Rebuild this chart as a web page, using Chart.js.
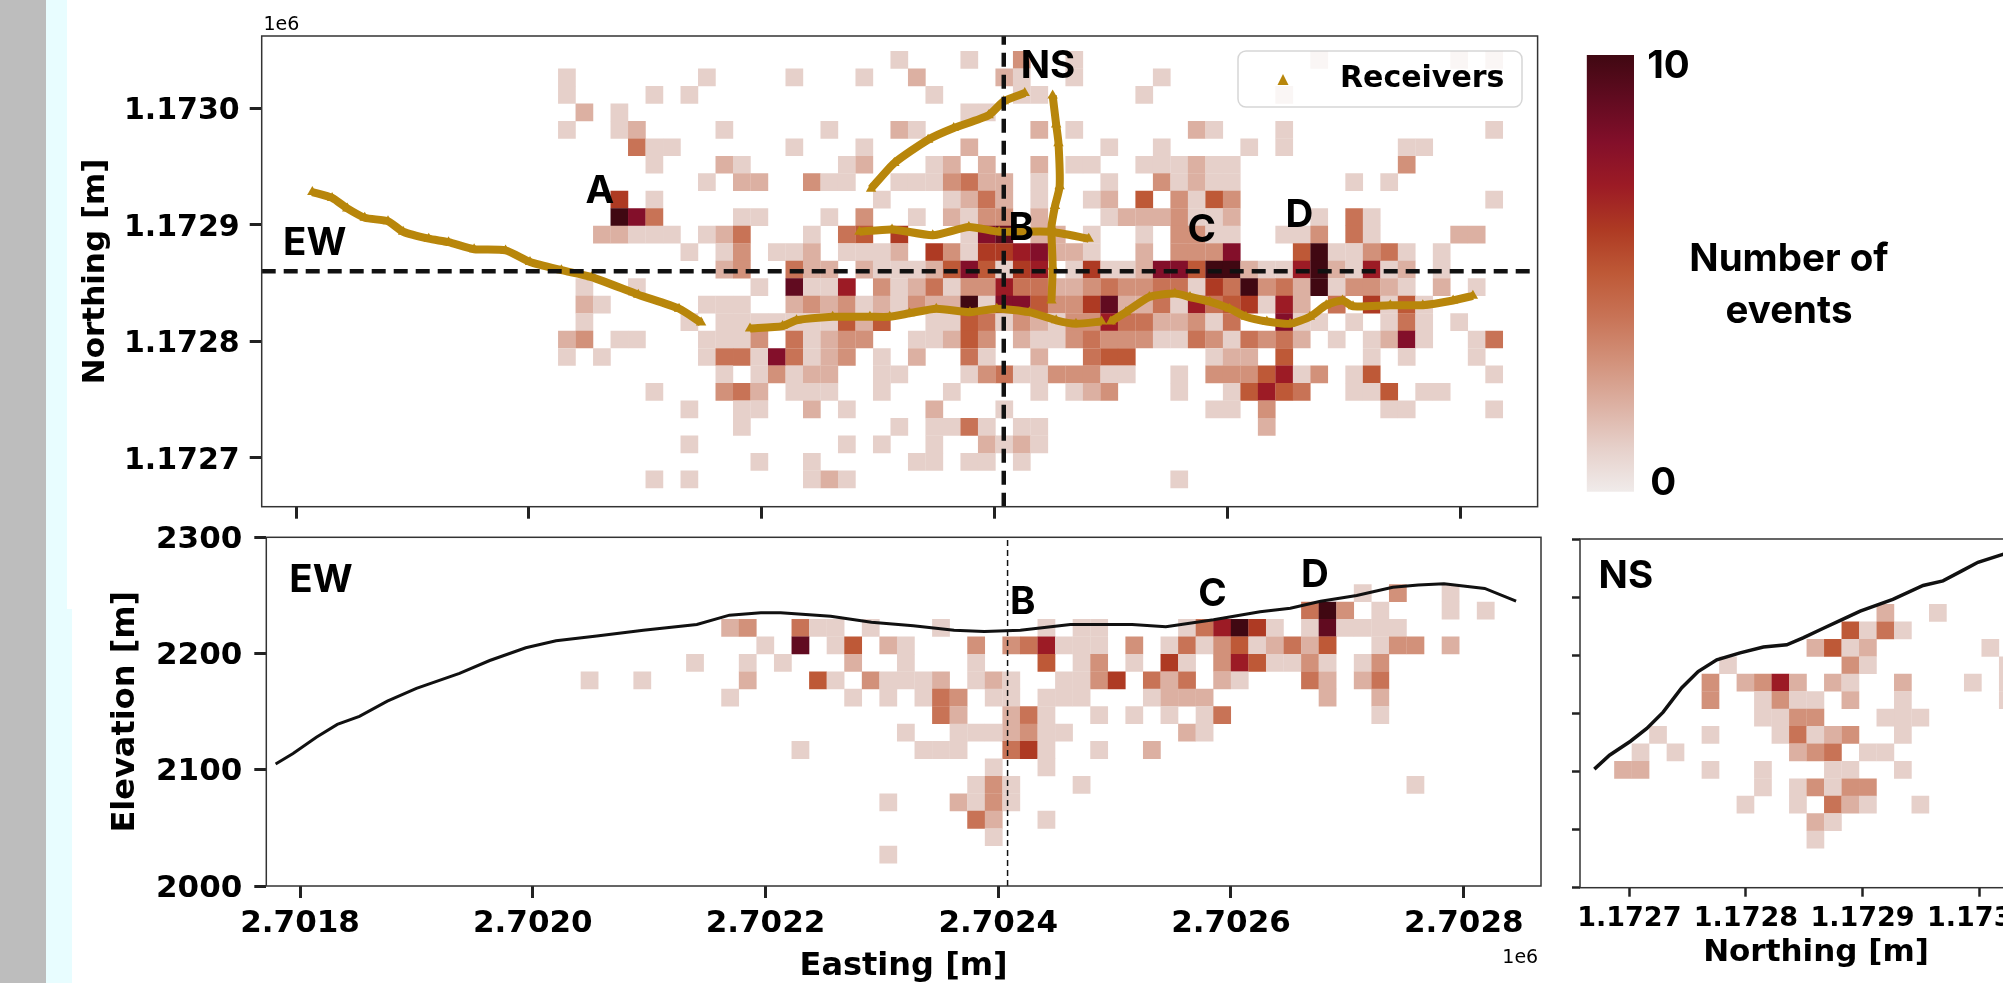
<!DOCTYPE html>
<html>
<head>
<meta charset="utf-8">
<title>Event density map</title>
<script src="https://cdn.jsdelivr.net/npm/chart.js@4.4.0/dist/chart.umd.js"></script>
<style>
  html, body { margin: 0; width: 2003px; height: 983px; overflow: hidden; background: #fff; }
  canvas { position: absolute; filter: blur(0.4px); }
  .strip { position: absolute; }
</style>
</head>
<body>
<div class="strip" style="left:46px;top:0;width:21px;height:609px;background:#e8fdff"></div>
<div class="strip" style="left:46px;top:609px;width:26px;height:374px;background:#e8fdff"></div>
<div class="strip" style="left:0;top:0;width:46px;height:983px;background:#bdbdbd"></div>
<canvas id="planChart" width="1490" height="530" style="left:70px;top:0"></canvas>
<canvas id="ewChart" width="1490" height="473" style="left:70px;top:520px"></canvas>
<canvas id="nsChart" width="560" height="473" style="left:1515px;top:520px"></canvas>
<canvas id="colorbarChart" width="433" height="530" style="left:1570px;top:0"></canvas>
<script>
// tick labels
const eastingTicks = [2701800, 2702000, 2702200, 2702400, 2702600, 2702800];
const northingTicks = [1172700, 1172800, 1172900, 1173000];
const elevationTicks = [2000, 2100, 2200, 2300];
const nsElevationTicks = [2000, 2050, 2100, 2150, 2200, 2250, 2300];

// colour per event count, 0 to 10
const countColors = ["#f0ebea", "#e6d0ca", "#dcb0a2", "#d2917a", "#c87356", "#be5937",
  "#ae3a23", "#9c1b25", "#830f2a", "#610b20", "#400812"];

// event counts, one list per bin row, north to south: [column, count]
const planBins = [
  [[19,1],[23,1],[26,3],[29,1],[43,1],[51,1],[53,1]],
  [[0,1],[8,1],[13,1],[17,1],[20,2],[25,2],[26,1],[29,1],[34,1]],
  [[0,1],[5,1],[7,1],[21,1],[26,1],[27,1],[33,1],[41,1]],
  [[1,2],[3,1],[23,1],[24,1]],
  [[0,1],[3,1],[4,2],[9,1],[15,1],[19,2],[20,1],[27,2],[29,1],[36,2],[37,1],[41,1],[53,1]],
  [[4,4],[5,1],[6,1],[13,1],[17,1],[23,2],[31,1],[34,1],[39,1],[41,1],[48,1],[49,1]],
  [[5,1],[9,2],[10,1],[16,1],[17,2],[21,1],[22,2],[24,2],[27,2],[29,1],[30,1],[33,1],[34,1],[35,1],[36,2],[37,1],[38,1],[48,3]],
  [[8,1],[10,2],[11,2],[14,3],[15,1],[16,1],[19,1],[20,1],[21,1],[22,3],[23,4],[24,2],[25,2],[27,1],[31,1],[34,3],[35,1],[36,2],[37,1],[38,1],[45,1],[47,1]],
  [[3,6],[5,1],[18,1],[22,1],[23,2],[24,4],[25,2],[27,1],[30,1],[31,2],[33,5],[35,3],[36,1],[37,5],[38,3],[53,1]],
  [[3,10],[4,8],[5,4],[10,1],[11,1],[15,1],[17,3],[20,1],[22,2],[23,1],[24,3],[25,3],[27,2],[31,1],[32,2],[33,2],[34,2],[35,3],[36,1],[37,1],[38,2],[43,1],[45,4],[46,1]],
  [[2,2],[3,2],[4,1],[5,1],[6,1],[8,1],[9,2],[10,4],[14,1],[16,4],[17,5],[19,6],[23,1],[24,8],[25,9],[27,2],[28,2],[30,1],[33,1],[35,3],[36,3],[37,1],[38,1],[41,1],[42,1],[43,3],[45,4],[46,1],[51,2],[52,2]],
  [[7,1],[9,1],[10,3],[12,1],[13,1],[14,2],[16,1],[17,1],[18,1],[19,2],[21,6],[22,3],[23,1],[24,6],[25,6],[26,7],[27,8],[28,2],[29,2],[30,1],[33,2],[35,3],[36,3],[37,3],[38,8],[42,5],[43,10],[44,1],[45,1],[46,3],[47,4],[48,1],[50,1]],
  [[9,2],[10,3],[13,4],[14,2],[15,2],[17,2],[18,1],[19,1],[20,1],[21,2],[22,5],[23,8],[24,5],[25,1],[26,6],[27,7],[29,1],[30,6],[31,1],[32,1],[33,2],[34,8],[35,8],[36,5],[37,10],[38,10],[39,2],[40,1],[41,1],[42,7],[43,10],[44,2],[45,1],[46,7],[47,1],[48,2],[50,1]],
  [[1,1],[4,1],[11,1],[13,9],[14,1],[15,1],[16,7],[18,3],[19,1],[20,2],[21,4],[22,1],[23,3],[24,3],[25,7],[26,4],[27,4],[28,2],[29,2],[30,3],[31,4],[32,3],[33,3],[34,4],[35,4],[36,1],[37,6],[38,4],[39,10],[40,3],[41,4],[42,2],[43,10],[44,1],[45,3],[46,3],[47,2],[48,1],[50,2],[52,1]],
  [[1,2],[2,1],[8,1],[9,1],[10,1],[13,2],[14,3],[15,2],[16,3],[17,1],[18,2],[19,1],[20,3],[21,2],[22,2],[23,10],[24,1],[25,8],[26,8],[27,5],[28,3],[29,3],[30,6],[31,9],[32,2],[33,2],[34,4],[35,1],[36,7],[37,4],[38,5],[39,6],[40,1],[41,7],[42,2],[44,4],[46,6],[47,1],[48,5],[49,1]],
  [[1,1],[7,1],[9,1],[10,1],[11,1],[12,1],[13,1],[14,1],[15,1],[16,5],[17,2],[18,5],[21,1],[22,1],[23,5],[24,4],[25,1],[26,3],[27,2],[28,1],[29,3],[30,3],[31,7],[32,4],[33,4],[34,2],[35,2],[36,3],[37,1],[38,4],[41,8],[42,1],[43,1],[45,1],[47,1],[48,4],[49,1],[51,1]],
  [[0,2],[1,3],[3,1],[4,1],[8,1],[9,1],[10,1],[11,3],[13,4],[14,1],[15,2],[16,3],[17,3],[20,1],[21,1],[22,2],[23,5],[24,3],[26,2],[27,1],[28,1],[29,3],[30,4],[31,3],[32,3],[33,3],[34,1],[35,1],[36,4],[37,3],[38,1],[39,4],[40,3],[41,4],[42,2],[44,1],[46,1],[47,2],[48,8],[49,1],[52,1],[53,4]],
  [[0,1],[2,1],[8,1],[9,4],[10,4],[11,1],[12,8],[13,4],[14,1],[15,2],[16,3],[18,1],[20,2],[23,4],[24,1],[27,2],[30,4],[31,5],[32,5],[37,1],[38,2],[39,2],[41,5],[46,1],[48,1],[52,1]],
  [[9,1],[11,1],[12,3],[13,1],[14,2],[15,2],[18,1],[19,1],[23,1],[24,3],[25,4],[26,1],[27,1],[28,3],[29,3],[30,3],[31,1],[32,1],[35,1],[37,3],[38,3],[39,3],[40,5],[41,7],[42,1],[43,3],[45,1],[46,5],[53,1]],
  [[5,1],[9,3],[10,4],[11,2],[13,1],[14,1],[15,1],[18,1],[22,1],[27,1],[29,1],[30,2],[31,3],[35,1],[38,1],[39,5],[40,7],[41,5],[42,4],[45,1],[46,1],[47,5],[49,1],[50,1]],
  [[7,1],[10,1],[11,1],[14,2],[16,1],[21,2],[25,1],[37,1],[38,1],[40,3],[47,1],[48,1],[53,1]],
  [[10,1],[19,1],[21,1],[22,1],[23,4],[24,1],[26,1],[27,1],[40,2]],
  [[7,1],[16,1],[18,1],[21,1],[24,2],[25,1],[26,2],[27,1]],
  [[11,1],[14,1],[20,1],[21,1],[23,1],[24,1],[26,1]],
  [[5,1],[7,1],[14,1],[15,2],[16,1],[35,1]],
];
const ewBins = [
  [[44,1],[46,3],[49,1]],
  [[41,4],[42,10],[43,3],[45,1],[49,1],[51,1]],
  [[8,2],[9,3],[12,4],[13,1],[14,1],[16,1],[20,1],[26,1],[28,1],[29,1],[34,1],[35,4],[36,7],[37,10],[38,6],[39,1],[41,1],[42,9],[43,1],[44,1],[45,1],[46,1]],
  [[10,1],[12,9],[14,1],[15,5],[17,2],[18,1],[22,3],[24,3],[25,4],[26,7],[27,1],[28,1],[29,1],[31,3],[33,1],[34,4],[35,1],[36,3],[37,5],[38,1],[39,2],[40,4],[41,2],[42,5],[45,1],[46,3],[47,3],[49,2]],
  [[6,1],[9,1],[11,1],[15,2],[18,1],[22,1],[26,5],[28,1],[29,3],[31,1],[33,6],[34,1],[36,3],[37,7],[38,5],[39,1],[40,1],[41,3],[42,1],[44,1],[45,3]],
  [[0,1],[3,1],[9,2],[13,5],[14,1],[16,3],[17,1],[18,1],[19,1],[20,2],[22,1],[23,2],[24,1],[27,1],[28,1],[29,3],[30,6],[32,4],[33,2],[34,4],[36,2],[37,1],[41,4],[42,2],[44,2],[45,4]],
  [[8,1],[15,1],[17,1],[19,1],[20,4],[21,3],[23,1],[24,1],[26,1],[27,1],[28,1],[32,1],[33,2],[34,2],[35,2],[42,2],[45,2]],
  [[20,4],[21,2],[24,2],[25,4],[26,1],[29,1],[31,1],[33,1],[35,1],[36,4],[45,1]],
  [[18,1],[21,1],[22,1],[23,1],[24,2],[25,3],[26,1],[27,1],[34,2],[35,1]],
  [[12,1],[19,1],[20,1],[21,1],[24,4],[25,6],[26,1],[29,1],[32,2]],
  [[23,1],[26,1]],
  [[22,1],[23,3],[24,1],[28,1],[47,1]],
  [[17,1],[21,2],[22,1],[23,3],[24,1]],
  [[22,4],[23,2],[26,1]],
  [[23,1]],
  [[17,1]],
];
const nsBins = [
  [[15,2],[18,1]],
  [[13,5],[14,1],[15,4],[16,1]],
  [[11,2],[12,5],[13,1],[14,2],[21,1]],
  [[6,1],[13,3],[14,1],[22,1]],
  [[5,3],[7,2],[8,3],[9,7],[10,2],[12,2],[13,1],[16,2],[20,1],[22,1]],
  [[5,3],[8,1],[9,3],[10,1],[11,1],[13,2],[16,1],[22,1]],
  [[8,1],[9,1],[10,3],[11,3],[15,1],[16,1],[17,1]],
  [[2,1],[5,1],[9,1],[10,4],[11,1],[12,2],[13,3],[16,1]],
  [[1,1],[3,1],[10,2],[11,3],[12,4],[14,1],[15,1]],
  [[0,2],[1,2],[5,1],[8,1],[12,1],[13,1],[16,1]],
  [[8,1],[10,1],[11,3],[12,1],[13,3],[14,3]],
  [[7,1],[10,1],[12,4],[13,2],[14,1],[17,1]],
  [[11,2],[12,1]],
  [[11,1]],
];

// receiver lines, easting and northing
const lineAEast = [2701814, 2701831, 2701844, 2701859, 2701879, 2701892, 2701914, 2701931, 2701953, 2701980, 2702001, 2702028, 2702054, 2702094, 2702129, 2702148];
const lineANorth = [1172928, 1172923, 1172914, 1172906, 1172903, 1172894, 1172888, 1172885, 1172879, 1172878, 1172868, 1172861, 1172855, 1172840, 1172828, 1172816];
const lineBEast = [2702190, 2702218, 2702230, 2702261, 2702293, 2702310, 2702327, 2702350, 2702379, 2702402, 2702430, 2702453, 2702470, 2702492];
const lineBNorth = [1172811, 1172813, 1172818, 1172821, 1172821, 1172821, 1172824, 1172828, 1172825, 1172828, 1172825, 1172818, 1172815, 1172817];
const lineCEast = [2702500, 2702513, 2702533, 2702555, 2702568, 2702585, 2702602, 2702616, 2702634, 2702654, 2702671, 2702685, 2702699, 2702708, 2702740, 2702768, 2702794, 2702811];
const lineCNorth = [1172817, 1172825, 1172838, 1172841, 1172838, 1172834, 1172828, 1172821, 1172817, 1172815, 1172821, 1172831, 1172835, 1172830, 1172831, 1172831, 1172835, 1172839];
const lineDEast = [2702284, 2702312, 2702347, 2702378, 2702404, 2702448, 2702481];
const lineDNorth = [1172894, 1172896, 1172891, 1172898, 1172894, 1172894, 1172888];
const lineEEast = [2702294, 2702314, 2702343, 2702365, 2702395, 2702408, 2702426];
const lineENorth = [1172931, 1172953, 1172973, 1172983, 1172994, 1173006, 1173013];
const lineFEast = [2702450, 2702453, 2702455, 2702456, 2702452, 2702449, 2702450, 2702449];
const lineFNorth = [1173011, 1172986, 1172970, 1172933, 1172916, 1172898, 1172864, 1172835];

// surface profiles
const ewSurfaceEast = [2701779, 2701794, 2701814, 2701832, 2701851, 2701875, 2701900, 2701937, 2701963, 2701994, 2702020, 2702055, 2702095, 2702141, 2702169, 2702196, 2702213, 2702256, 2702291, 2702327, 2702362, 2702388, 2702419, 2702462, 2702515, 2702544, 2702585, 2702625, 2702651, 2702677, 2702708, 2702739, 2702761, 2702783, 2702818, 2702845];
const ewSurfaceElev = [2105, 2114, 2128, 2139, 2146, 2159, 2170, 2183, 2194, 2205, 2211, 2215, 2220, 2225, 2233, 2235, 2235, 2232, 2227, 2224, 2220, 2219, 2220, 2225, 2225, 2223, 2229, 2236, 2239, 2245, 2250, 2257, 2259, 2260, 2256, 2245];
const nsSurfaceNorth = [1172670, 1172683, 1172701, 1172715, 1172729, 1172745, 1172759, 1172775, 1172795, 1172815, 1172835, 1172849, 1172866, 1172881, 1172898, 1172926, 1172952, 1172969, 1172986, 1172999, 1173021];
const nsSurfaceElev = [2102, 2114, 2126, 2137, 2151, 2172, 2186, 2196, 2202, 2207, 2209, 2215, 2223, 2230, 2238, 2248, 2260, 2264, 2273, 2280, 2287];

// profile positions
const ewProfileNorthing = 1172860;
const nsProfileEasting = 2702408;

const annotFont = "bold 38.5px Inter";
const smallFont = "19px 'DejaVu Sans'";
const tickFamily = "'DejaVu Sans'";
const receiverColor = "#b8860b";

function zip(xs, ys) {
  return xs.map((x, i) => ({ x: x, y: ys[i] }));
}

// turn bin rows into centre points for the rect markers
function binPoints(rows, xFirst, yFirst, xBin, yBin) {
  const pts = [];
  rows.forEach((row, r) => {
    row.forEach((bin) => {
      pts.push({ x: xFirst + bin[0] * xBin, y: yFirst - r * yBin, v: bin[1] });
    });
  });
  return pts;
}

function heatDataset(points, xBin) {
  return {
    data: points,
    order: 5,
    pointStyle: "rect",
    pointBorderWidth: 0,
    pointRadius: (ctx) => {
      const xs = ctx.chart.scales.x;
      const side = xs.getPixelForValue(xs.min + xBin) - xs.getPixelForValue(xs.min);
      return side / Math.SQRT2 + 0.15;
    },
    pointBackgroundColor: (ctx) => (ctx.raw ? countColors[ctx.raw.v] : countColors[0]),
  };
}

function receiverDataset(xs, ys) {
  return {
    data: zip(xs, ys),
    order: 3,
    showLine: true,
    tension: 0.2,
    borderColor: receiverColor,
    borderWidth: 8,
    pointStyle: "triangle",
    pointRadius: 6,
    pointBorderWidth: 0,
    pointBackgroundColor: receiverColor,
  };
}

function lineDataset(xs, ys, width, dash) {
  return {
    data: zip(xs, ys),
    order: 1,
    showLine: true,
    borderColor: "#111",
    borderWidth: width,
    borderDash: dash || [],
    pointRadius: 0,
  };
}

function axis(ticksList, min, max, size, opts) {
  const scale = {
    type: "linear",
    min: min,
    max: max,
    border: { display: false },
    grid: { drawOnChartArea: false, drawTicks: true, tickLength: opts.tickLength || 12, tickWidth: opts.tickWidth || 3, tickColor: "#222" },
    afterBuildTicks: (s) => { s.ticks = ticksList.map((v) => ({ value: v })); },
    afterFit: (s) => {
      if (s.isHorizontal()) s.height = size;
      else s.width = size;
      // tick labels must not push the plot area around
      s.paddingLeft = s.paddingRight = s.paddingTop = s.paddingBottom = 0;
    },
    ticks: {
      autoSkip: false,
      maxRotation: 0,
      padding: opts.pad || 10,
      labelOffset: opts.labelOffset || 0,
      color: "#000",
      font: { family: tickFamily, weight: "bold", size: opts.font || 30 },
      callback: opts.label || (() => ""),
    },
  };
  if (opts.title) {
    scale.title = {
      display: true,
      text: opts.title,
      color: "#000",
      padding: opts.titlePad,
      font: { family: tickFamily, weight: "bold", size: opts.titleSize },
    };
  }
  return scale;
}

// frame, text labels and the inset legend
const overlay = {
  id: "overlay",
  afterDatasetsDraw(chart, args, opts) {
    const ctx = chart.ctx;
    const area = chart.chartArea;
    ctx.save();
    if (opts.frame) {
      ctx.strokeStyle = "#333";
      ctx.lineWidth = 1.5;
      ctx.strokeRect(area.left, area.top, area.right - area.left, area.bottom - area.top);
    }
    if (opts.legend) {
      const left = area.right - 299.6;
      const top = area.top + 15;
      ctx.beginPath();
      ctx.roundRect(left, top, 284, 56, 8);
      ctx.fillStyle = "rgba(255,255,255,0.8)";
      ctx.fill();
      ctx.strokeStyle = "rgba(204,204,204,0.8)";
      ctx.lineWidth = 1.5;
      ctx.stroke();
      const mx = left + 45;
      const my = top + 29;
      ctx.beginPath();
      ctx.moveTo(mx, my - 6);
      ctx.lineTo(mx + 5.5, my + 5);
      ctx.lineTo(mx - 5.5, my + 5);
      ctx.closePath();
      ctx.fillStyle = receiverColor;
      ctx.fill();
      ctx.fillStyle = "#000";
      ctx.font = "bold 30px " + tickFamily;
      ctx.textAlign = "left";
      ctx.textBaseline = "middle";
      ctx.fillText(opts.legend, left + 102, top + 28.5);
    }
    ctx.fillStyle = "#000";
    ctx.textBaseline = "middle";
    (opts.labels || []).forEach((l) => {
      const x = l.dx !== undefined ? area.right + l.dx : chart.scales.x.getPixelForValue(l.x);
      ctx.font = l.font || annotFont;
      ctx.textAlign = l.align || "center";
      // middle baseline sits above the visual centre of the capitals
      ctx.fillText(l.text, x, chart.scales.y.getPixelForValue(l.y) + 3.5);
    });
    ctx.restore();
  },
};

function baseOptions(padding, overlayOpts, scales) {
  return {
    responsive: false,
    animation: false,
    events: [],
    layout: { autoPadding: false, padding: padding },
    plugins: { legend: { display: false }, tooltip: { enabled: false }, overlay: overlayOpts },
    scales: scales,
  };
}

const sciLabel = (v) => (v / 1e6).toFixed(4);

new Chart(document.getElementById("planChart"), {
  type: "scatter",
  plugins: [overlay],
  data: {
    datasets: [
      heatDataset(binPoints(planBins, 2702032.7, 1173041.5, 15.03, 15), 15.03),
      receiverDataset(lineAEast, lineANorth),
      receiverDataset(lineBEast, lineBNorth),
      receiverDataset(lineCEast, lineCNorth),
      receiverDataset(lineDEast, lineDNorth),
      receiverDataset(lineEEast, lineENorth),
      receiverDataset(lineFEast, lineFNorth),
      lineDataset([2701770.5, 2702866.6], [ewProfileNorthing, ewProfileNorthing], 4.5, [14, 8]),
      lineDataset([nsProfileEasting, nsProfileEasting], [1172658, 1173062], 4.5, [14, 8]),
    ],
  },
  options: baseOptions({ top: 36, right: 22.4 }, {
    frame: true,
    legend: "Receivers",
    labels: [
      { text: "A", x: 2702061, y: 1172932 },
      { text: "EW", x: 2701816, y: 1172887 },
      { text: "NS", x: 2702446, y: 1173039 },
      { text: "B", x: 2702423, y: 1172900 },
      { text: "C", x: 2702578, y: 1172898 },
      { text: "D", x: 2702662, y: 1172911 },
      { text: "1e6", x: 2701772, y: 1173074, font: smallFont, align: "left" },
    ],
  }, {
    x: axis(eastingTicks, 2701770.5, 2702866.6, 23.3, {}),
    y: axis(northingTicks, 1172658, 1173062, 191.7, { label: sciLabel, labelOffset: 3, title: "Northing [m]", titleSize: 31, titlePad: { top: 7 } }),
  }),
});

new Chart(document.getElementById("ewChart"), {
  type: "scatter",
  plugins: [overlay],
  data: {
    datasets: [
      heatDataset(binPoints(ewBins, 2702048.8, 2252, 15.1, 15), 15.1),
      lineDataset(ewSurfaceEast, ewSurfaceElev, 3),
      lineDataset([nsProfileEasting, nsProfileEasting], [2000, 2300], 1.5, [6, 4]),
    ],
  },
  options: baseOptions({ top: 17.3, right: 19 }, {
    frame: true,
    labels: [
      { text: "EW", x: 2701818, y: 2266 },
      { text: "B", x: 2702421, y: 2247 },
      { text: "C", x: 2702584, y: 2254 },
      { text: "D", x: 2702672, y: 2270 },
      { text: "1e6", x: 2702864, y: 1941, font: smallFont, align: "right" },
    ],
  }, {
    x: axis(eastingTicks, 2701771, 2702866.4, 107, { label: sciLabel, font: 31, pad: 7, title: "Easting [m]", titleSize: 32, titlePad: { bottom: 7 } }),
    y: axis(elevationTicks, 2000, 2300, 196.3, { label: (v) => String(v), labelOffset: 2.5, font: 31, pad: 12, title: "Elevation [m]", titleSize: 32, titlePad: { top: 36 } }),
  }),
});

new Chart(document.getElementById("nsChart"), {
  type: "scatter",
  plugins: [overlay],
  data: {
    datasets: [
      heatDataset(binPoints(nsBins, 1172694.6, 2236.4, 15, 15), 15),
      lineDataset(nsSurfaceNorth, nsSurfaceElev, 3.5),
    ],
  },
  options: baseOptions({ top: 19, right: 23 }, {
    frame: true,
    labels: [{ text: "NS", x: 1172697, y: 2271 }],
  }, {
    x: axis(northingTicks, 1172657.7, 1173062.5, 105.3, { label: sciLabel, font: 27, pad: 6, tickLength: 9, tickWidth: 2.5, title: "Northing [m]", titleSize: 31, titlePad: { bottom: 21 } }),
    y: axis(nsElevationTicks, 2000, 2300, 65, { tickLength: 8, tickWidth: 2.5 }),
  }),
});

new Chart(document.getElementById("colorbarChart"), {
  type: "bar",
  plugins: [overlay],
  data: {
    labels: [""],
    datasets: [{
      data: [[0, 10]],
      categoryPercentage: 1,
      barPercentage: 1,
      backgroundColor: (ctx) => {
        const area = ctx.chart.chartArea;
        if (!area) return countColors[5];
        const grad = ctx.chart.ctx.createLinearGradient(0, area.bottom, 0, area.top);
        countColors.forEach((c, i) => grad.addColorStop(i / (countColors.length - 1), c));
        return grad;
      },
    }],
  },
  options: baseOptions({ top: 55, right: 369, bottom: 38.3, left: 16.7 }, {
    labels: [
      { text: "10", dx: 34.5, y: 9.82 },
      { text: "0", dx: 29.3, y: 0.27 },
      { text: "Number of", dx: 155, y: 5.4 },
      { text: "events", dx: 155, y: 4.21 },
    ],
  }, {
    x: { display: false },
    y: { display: false, min: 0, max: 10 },
  }),
});
</script>
</body>
</html>
